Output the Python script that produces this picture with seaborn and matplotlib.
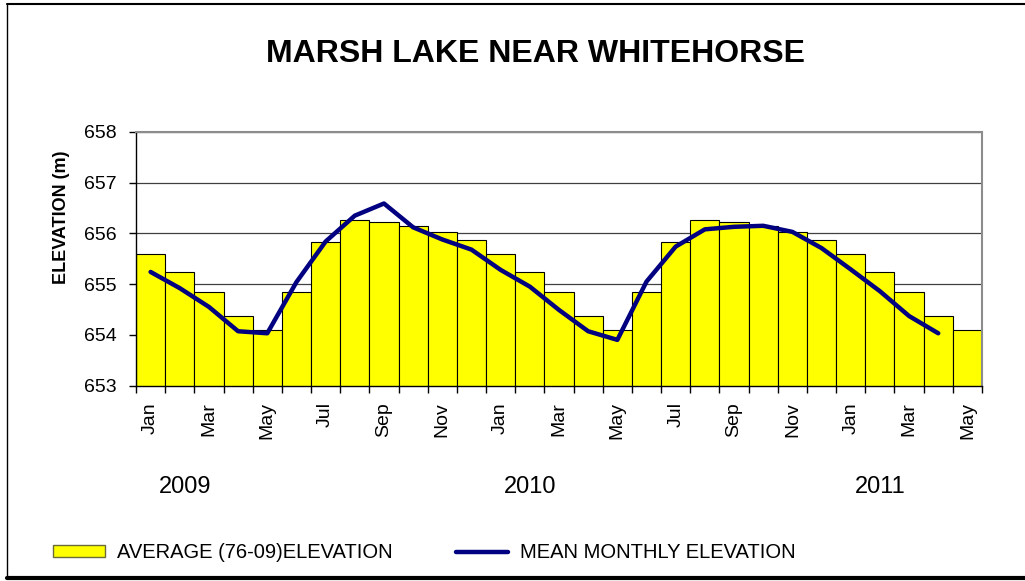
import pandas as pd
import seaborn as sns
import matplotlib.pyplot as plt
from matplotlib.patches import Patch
from matplotlib.lines import Line2D

# month labels, Jan 2009 .. May 2011
months = ["Jan", "Feb", "Mar", "Apr", "May", "Jun", "Jul", "Aug", "Sep", "Oct", "Nov", "Dec"] * 2 + \
         ["Jan", "Feb", "Mar", "Apr", "May"]
years = ["2009", "2010", "2011"]

# long term average (76-09), one value per month
avg_elev = [655.60, 655.24, 654.84, 654.37, 654.09, 654.84, 655.83, 656.27, 656.22, 656.15, 656.03, 655.87,
            655.60, 655.24, 654.84, 654.37, 654.09, 654.84, 655.83, 656.27, 656.22, 656.15, 656.03, 655.87,
            655.60, 655.24, 654.84, 654.37, 654.09]

# observed mean monthly elevation, Jan 2009 .. Apr 2011
mean_elev = [655.24, 654.92, 654.55, 654.07, 654.03, 655.04, 655.84, 656.35, 656.59, 656.12, 655.88, 655.68,
             655.28, 654.95, 654.49, 654.07, 653.90, 655.05, 655.74, 656.08, 656.13, 656.15, 656.03, 655.71,
             655.29, 654.86, 654.37, 654.03]

sns.set_theme(style="white")
plt.rcParams["font.family"] = ["Liberation Sans", "DejaVu Sans"]
plt.rcParams.update({"text.color": "black", "axes.labelcolor": "black",
                     "xtick.color": "black", "ytick.color": "black"})

W, H = 1025, 581
fig = plt.figure(figsize=(W / 100, H / 100), dpi=100)
ax = fig.add_axes([136 / W, 1 - 385.5 / H, (982 - 136) / W, (385.5 - 132) / H])

df_avg = pd.DataFrame({"idx": range(len(avg_elev)), "avg": avg_elev})
df_mean = pd.DataFrame({"idx": range(len(mean_elev)), "mean": mean_elev})

sns.barplot(data=df_avg, x="idx", y="avg", color="#ffff00", saturation=1, width=1.0,
            edgecolor="black", linewidth=0.8, ax=ax)
sns.lineplot(data=df_mean, x="idx", y="mean", color="#000080", lw=3.2, ax=ax,
             solid_capstyle="round", solid_joinstyle="round")

ax.set_ylim(653, 658)
ax.set_xlim(-0.5, len(avg_elev) - 0.5)
ax.set_yticks(range(653, 659))
ax.set_yticklabels([str(v) for v in range(653, 659)], fontsize=14)
ax.set_xticks(range(0, len(months), 2))
ax.set_xticklabels(months[::2], rotation=90, fontsize=14)
ax.set_xticks([i - 0.5 for i in range(len(months) + 1)], minor=True)
ax.tick_params(axis="x", which="major", length=0, pad=12)
ax.tick_params(axis="x", which="minor", length=5, width=1, direction="out", color="black", bottom=True)
ax.tick_params(axis="y", length=5, width=1, direction="out", color="black", left=True, pad=9)
ax.set_xlabel("")
ax.set_ylabel("")

ax.yaxis.grid(True, color="#404040", lw=0.9)
ax.set_axisbelow(True)
for s in ["top", "right"]:
    ax.spines[s].set_color("#8c8c8c")
    ax.spines[s].set_linewidth(1.5)
for s in ["left", "bottom"]:
    ax.spines[s].set_color("black")
    ax.spines[s].set_linewidth(1.0)

# year labels under the months
for pos, yr in zip([1.2, 13.0, 25.0], years):
    ax.text(pos, -0.40, yr, transform=ax.get_xaxis_transform(), ha="center", va="center", fontsize=17)

fig.text(535 / W, 1 - 62 / H, "MARSH LAKE NEAR WHITEHORSE", ha="center", va="baseline",
         fontsize=23, fontweight="bold")
fig.text(61 / W, 1 - 217 / H, "ELEVATION (m)", rotation=90, ha="center", va="center",
         fontsize=13, fontweight="bold")

handles = [Patch(facecolor="#ffff00", edgecolor="#6b6b3a", lw=1),
           Line2D([], [], color="#000080", lw=3.2)]
fig.legend(handles, ["AVERAGE (76-09)ELEVATION", "MEAN MONTHLY ELEVATION"],
           loc="center left", bbox_to_anchor=(53 / W, 1 - 553 / H), ncol=2, frameon=False,
           fontsize=14.5, borderpad=0, borderaxespad=0, handlelength=2.6, handleheight=0.55,
           handletextpad=0.6, columnspacing=3.1)

# chart frame
fig.add_artist(Line2D([7 / W, 7 / W], [1 - 3.5 / H, 1 - 578 / H], transform=fig.transFigure, color="black", lw=1))
fig.add_artist(Line2D([7 / W, 1], [1 - 3.5 / H, 1 - 3.5 / H], transform=fig.transFigure, color="black", lw=1.5))
fig.add_artist(Line2D([7 / W, 1], [1 - 578 / H, 1 - 578 / H], transform=fig.transFigure, color="black", lw=3))

fig.savefig("out.png", dpi=100)
